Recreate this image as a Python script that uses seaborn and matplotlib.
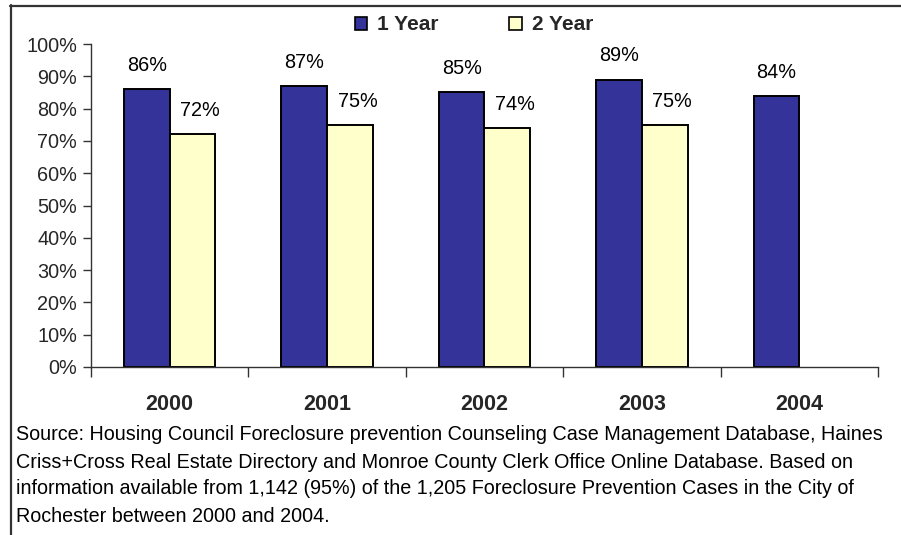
import matplotlib
matplotlib.use("Agg")
import matplotlib.pyplot as plt
from matplotlib.lines import Line2D
from matplotlib.patches import Patch
import numpy as np
import pandas as pd
import seaborn as sns

# Share of foreclosure-prevention clients still in their homes
years = ["2000", "2001", "2002", "2003", "2004"]
one_year = [0.86, 0.87, 0.85, 0.89, 0.84]
two_year = [0.72, 0.75, 0.74, 0.75, np.nan]
series = ["1 Year", "2 Year"]
colors = ["#333399", "#FFFFCC"]
yticks = [i / 10 for i in range(11)]

source_lines = [
    "Source: Housing Council Foreclosure prevention Counseling Case Management Database, Haines",
    "Criss+Cross Real Estate Directory and Monroe County Clerk Office Online Database. Based on",
    "information available from 1,142 (95%) of the 1,205 Foreclosure Prevention Cases in the City of",
    "Rochester between 2000 and 2004.",
]

df = pd.DataFrame({
    "year": years * 2,
    "series": [series[0]] * len(years) + [series[1]] * len(years),
    "value": one_year + two_year,
})

sns.set_theme(style="white")
plt.rcParams["font.family"] = ["Liberation Sans", "DejaVu Sans"]

W, H = 901, 535
fig = plt.figure(figsize=(W / 100, H / 100), dpi=100)
ax = fig.add_axes([91 / W, 1 - 367 / H, (878 - 91) / W, (367 - 44) / H])

sns.barplot(
    data=df, x="year", y="value", hue="series", order=years, hue_order=series,
    palette=colors, width=0.58, edgecolor="black", linewidth=1.4,
    saturation=1, legend=False, ax=ax,
)

# value labels above each bar (second series nudged slightly right)
label_dx = [0, 5.5]
for k, container in enumerate(ax.containers):
    for bar in container:
        h = bar.get_height()
        if np.isnan(h) or h == 0:
            continue
        ax.annotate(f"{h:.0%}", (bar.get_x() + bar.get_width() / 2, h),
                    xytext=(label_dx[k], 17), textcoords="offset points",
                    ha="center", va="center", fontsize=14.3, color="black")

ax.set_xlim(-0.5, len(years) - 0.5)
ax.set_ylim(0, 1)
ax.set_yticks(yticks)
ax.set_yticklabels([f"{t:.0%}" for t in yticks], fontsize=14.3)
ax.set_xticks(range(len(years)))
ax.set_xticklabels(years, fontsize=15.5, fontweight="bold")
ax.set_xticks(np.arange(-0.5, len(years)), minor=True)
ax.tick_params(axis="x", which="major", length=0, pad=19.5)
ax.tick_params(axis="x", which="minor", length=7, width=1, color="#333333",
               direction="out", bottom=True)
ax.tick_params(axis="y", which="major", length=6, width=1, color="#333333",
               direction="out", left=True, pad=4)
ax.set_xlabel("")
ax.set_ylabel("")
for side in ["top", "right"]:
    ax.spines[side].set_visible(False)
for side in ["left", "bottom"]:
    ax.spines[side].set_color("#333333")
    ax.spines[side].set_linewidth(1)

handles = [Patch(facecolor=c, edgecolor="black", linewidth=1.2) for c in colors]
fig.legend(handles, series, loc="center", bbox_to_anchor=(474 / W, 1 - 25 / H),
           ncol=2, frameon=False, prop={"size": 15, "weight": "bold"},
           handlelength=0.58, handleheight=0.58, handletextpad=0.48,
           columnspacing=3.4, borderpad=0)

# source note
for i, line in enumerate(source_lines):
    fig.text(16 / W, 1 - (435 + 27 * i) / H, line, fontsize=14.2,
             ha="left", va="center", color="black")

# outer frame: top and left edges
fig.add_artist(Line2D([10 / W, 1], [1 - 5.5 / H, 1 - 5.5 / H], color="#333333",
                      linewidth=1.6, transform=fig.transFigure))
fig.add_artist(Line2D([10.5 / W, 10.5 / W], [0, 1 - 5 / H], color="#333333",
                      linewidth=1.6, transform=fig.transFigure))

fig.savefig("out.png", dpi=100)
